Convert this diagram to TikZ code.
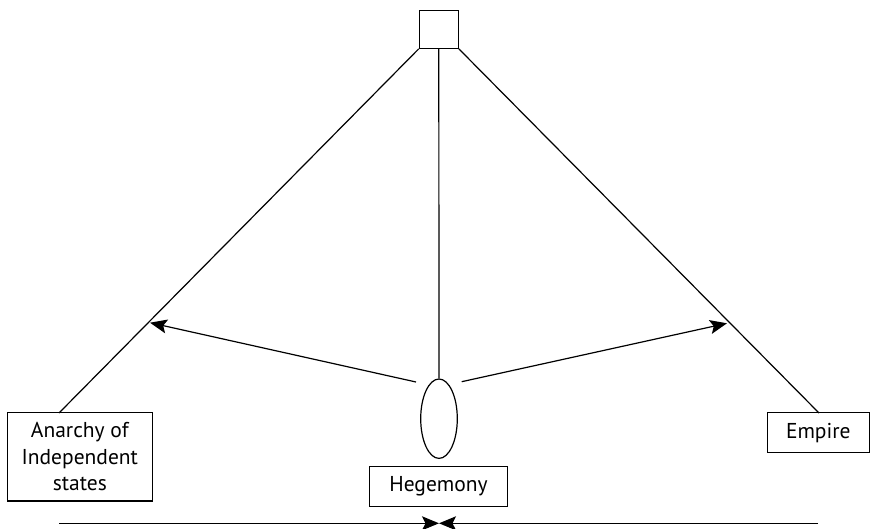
\documentclass[tikz,border=0pt]{standalone}
\usepackage{fontspec}
\setmainfont{PT Sans}
\usetikzlibrary{arrows.meta,shapes.geometric}
\begin{document}
\begin{tikzpicture}[x=1pt,y=-1pt,
  line/.style={line width=1.2pt},
  box/.style={draw,line width=1.2pt,inner sep=0pt,font=\fontsize{21.5}{26.5}\selectfont,align=center},
  arr/.style={line width=1.2pt,-{Stealth[length=17pt,width=14pt,inset=3.5pt]}}]
\useasboundingbox (0,0) rectangle (870,529);
\node[draw,line width=1.2pt,minimum width=39pt,minimum height=37.6pt,inner sep=0pt] (sq) at (438.8,29.5) {};
\node[draw,ellipse,line width=1.2pt,minimum width=36.6pt,minimum height=79.4pt,inner sep=0pt] (ell) at (439,418.7) {};
\node[box,minimum width=145pt,minimum height=88.3pt] (anarchy) at (79.8,456.9) {Anarchy of\\Independent\\states};
\node[box,minimum width=102pt,minimum height=40pt] (empire) at (818.3,432.7) {Empire};
\node[box,minimum width=138.4pt,minimum height=40pt] (heg) at (438.5,486.7) {Hegemony};
\coordinate (aTop) at (59,413);
\coordinate (eTop) at (819,413);
\coordinate (lStart) at (416,382);
\coordinate (lEnd) at (150,322.7);
\coordinate (rStart) at (461.7,381.7);
\coordinate (rEnd) at (727,323.3);
\coordinate (bl) at (59,523.3);
\coordinate (bm) at (439,523.3);
\coordinate (br) at (818,523.3);
\draw[line] (sq.south west) -- (aTop);
\draw[line] (sq.south east) -- (eTop);
\draw[line] (sq.south) -- (ell.north);
\draw[arr] (lStart) -- (lEnd);
\draw[arr] (rStart) -- (rEnd);
\draw[arr] (bl) -- (bm);
\draw[arr] (br) -- (bm);
\end{tikzpicture}
\end{document}
